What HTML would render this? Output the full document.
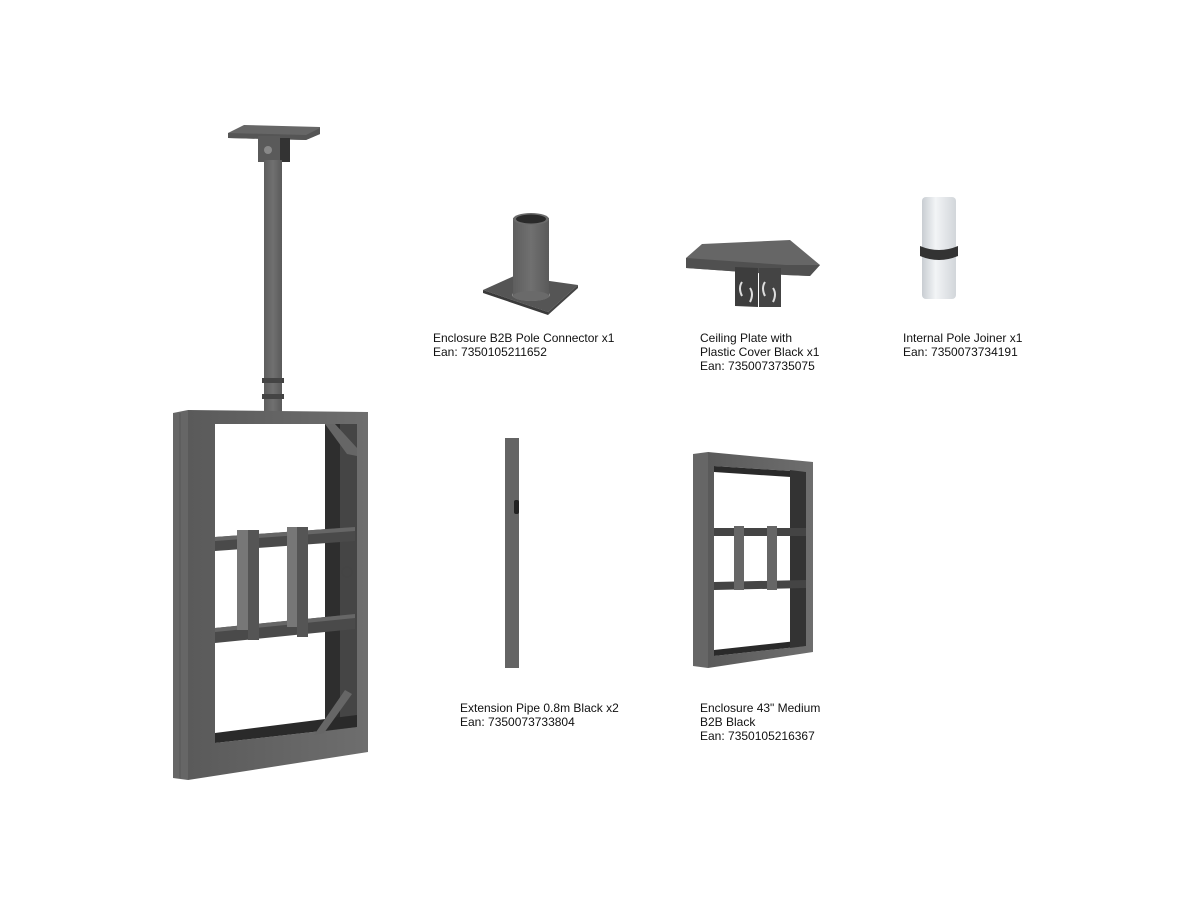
<!DOCTYPE html>
<html><head><meta charset="utf-8"><style>
html,body{margin:0;padding:0;background:#fff;}
body{width:1200px;height:900px;position:relative;overflow:hidden;font-family:"Liberation Sans",sans-serif;}
.t{position:absolute;font-size:12px;line-height:14px;color:#111;white-space:nowrap;}
svg{position:absolute;left:0;top:0;}
</style></head><body>
<svg width="1200" height="900" viewBox="0 0 1200 900">
<defs>
<linearGradient id="g1" x1="0" x2="1"><stop offset="0" stop-color="#5a5a5a"/><stop offset="1" stop-color="#6e6e6e"/></linearGradient>
<linearGradient id="pole" x1="0" x2="1"><stop offset="0" stop-color="#5e5e5e"/><stop offset=".5" stop-color="#707070"/><stop offset="1" stop-color="#5a5a5a"/></linearGradient>
<linearGradient id="wh" x1="0" x2="1"><stop offset="0" stop-color="#c8cdd2"/><stop offset=".4" stop-color="#f2f4f6"/><stop offset="1" stop-color="#d2d6da"/></linearGradient>
</defs>
<polygon points="228,133 244,125 320,127 320,134 306,140 228,138" fill="#666"/>
<polygon points="228,133 306,135 320,128 320,134 306,140 228,138" fill="#555"/>
<rect x="258" y="136" width="22" height="26" fill="#5a5a5a"/>
<rect x="280" y="138" width="10" height="24" fill="#333"/>
<circle cx="268" cy="150" r="4" fill="#888"/>
<rect x="264" y="160" width="18" height="252" fill="url(#pole)"/>
<rect x="262" y="378" width="22" height="5" fill="#444"/>
<rect x="262" y="394" width="22" height="5" fill="#444"/>
<polygon points="173,413 188,410 188,780 173,778" fill="#666"/>
<line x1="180" y1="413" x2="180" y2="778" stroke="#555" stroke-width="1"/>
<path d="M188,410 L368,412 L368,752 L188,780 Z M215,424 L357,424 L357,727 L215,743 Z" fill="url(#g1)" fill-rule="evenodd"/>
<polygon points="325,424 357,424 357,727 325,731" fill="#2e2e2e"/>
<polygon points="340,424 357,424 357,727 340,729" fill="#454545"/>
<polygon points="215,733 357,715 357,727 215,743" fill="#2a2a2a"/>
<polygon points="325,424 335,424 357,448 357,456 347,454" fill="#666"/>
<polygon points="314,735 345,690 352,694 324,733" fill="#666"/>
<polygon points="215,537 355,527 355,541 215,551" fill="#4a4a4a"/>
<polygon points="215,537 355,527 355,531 215,541" fill="#666"/>
<polygon points="215,628 355,614 355,629 215,643" fill="#4a4a4a"/>
<polygon points="215,628 355,614 355,618 215,632" fill="#666"/>
<rect x="237" y="530" width="11" height="100" fill="#777"/>
<rect x="248" y="530" width="11" height="110" fill="#555"/>
<rect x="287" y="527" width="11" height="100" fill="#777"/>
<rect x="297" y="527" width="11" height="110" fill="#555"/>
<circle cx="347" cy="572" r="5" fill="none" stroke="#444"/>
<polygon points="483,290 514,276 578,285 548,312" fill="#555"/>
<polygon points="483,290 548,312 548,315 483,293" fill="#3a3a3a"/>
<polygon points="548,312 578,285 578,288 548,315" fill="#444"/>
<ellipse cx="531" cy="295" rx="19" ry="6" fill="#888"/>
<rect x="513" y="218" width="36" height="78" fill="url(#pole)"/>
<ellipse cx="531" cy="296" rx="18" ry="5" fill="#6a6a6a"/>
<ellipse cx="531" cy="219" rx="18" ry="6" fill="#6a6a6a"/>
<ellipse cx="531" cy="219" rx="15" ry="4.5" fill="#2a2a2a"/>
<polygon points="686,258 702,244 790,240 820,265 810,276 786,275 686,268" fill="#666"/>
<polygon points="686,258 786,265 820,265 810,276 786,275 686,268" fill="#505050"/>
<polygon points="735,267 758,268 758,307 735,306" fill="#3d3d3d"/>
<polygon points="759,268 781,268 781,307 759,307" fill="#444"/>
<path d="M742,282 q-4,6 0,14 M750,288 q4,6 0,14 M765,282 q-4,6 0,14 M773,288 q4,6 0,14" stroke="#ddd" stroke-width="2" fill="none"/>
<rect x="922" y="197" width="34" height="102" rx="4" fill="url(#wh)"/>
<path d="M920,246 q19,8 38,0 l0,10 q-19,8 -38,0 Z" fill="#333"/>
<rect x="505" y="438" width="14" height="230" fill="#646464"/>
<rect x="514" y="500" width="5" height="14" rx="2" fill="#222"/>
<polygon points="693,454 708,452 708,668 693,666" fill="#666"/>
<path d="M708,452 L813,462 L813,652 L708,668 Z M714,466 L806,472 L806,646 L714,656 Z" fill="url(#g1)" fill-rule="evenodd"/>
<polygon points="714,466 806,472 806,478 714,472" fill="#2a2a2a"/>
<polygon points="714,650 806,640 806,646 714,656" fill="#2a2a2a"/>
<polygon points="790,470 806,472 806,646 790,648" fill="#333"/>
<polygon points="714,528 806,528 806,536 714,536" fill="#444"/>
<polygon points="714,582 806,580 806,588 714,590" fill="#444"/>
<rect x="734" y="526" width="10" height="64" fill="#666"/>
<rect x="767" y="526" width="10" height="64" fill="#666"/>
</svg>
<div class="t" style="left:433px;top:331px;">Enclosure B2B Pole Connector x1<br>Ean: 7350105211652</div>
<div class="t" style="left:700px;top:331px;">Ceiling Plate with<br>Plastic Cover Black x1<br>Ean: 7350073735075</div>
<div class="t" style="left:903px;top:331px;">Internal Pole Joiner x1<br>Ean: 7350073734191</div>
<div class="t" style="left:460px;top:701px;">Extension Pipe 0.8m Black x2<br>Ean: 7350073733804</div>
<div class="t" style="left:700px;top:701px;">Enclosure 43" Medium<br>B2B Black<br>Ean: 7350105216367</div>
</body></html>
